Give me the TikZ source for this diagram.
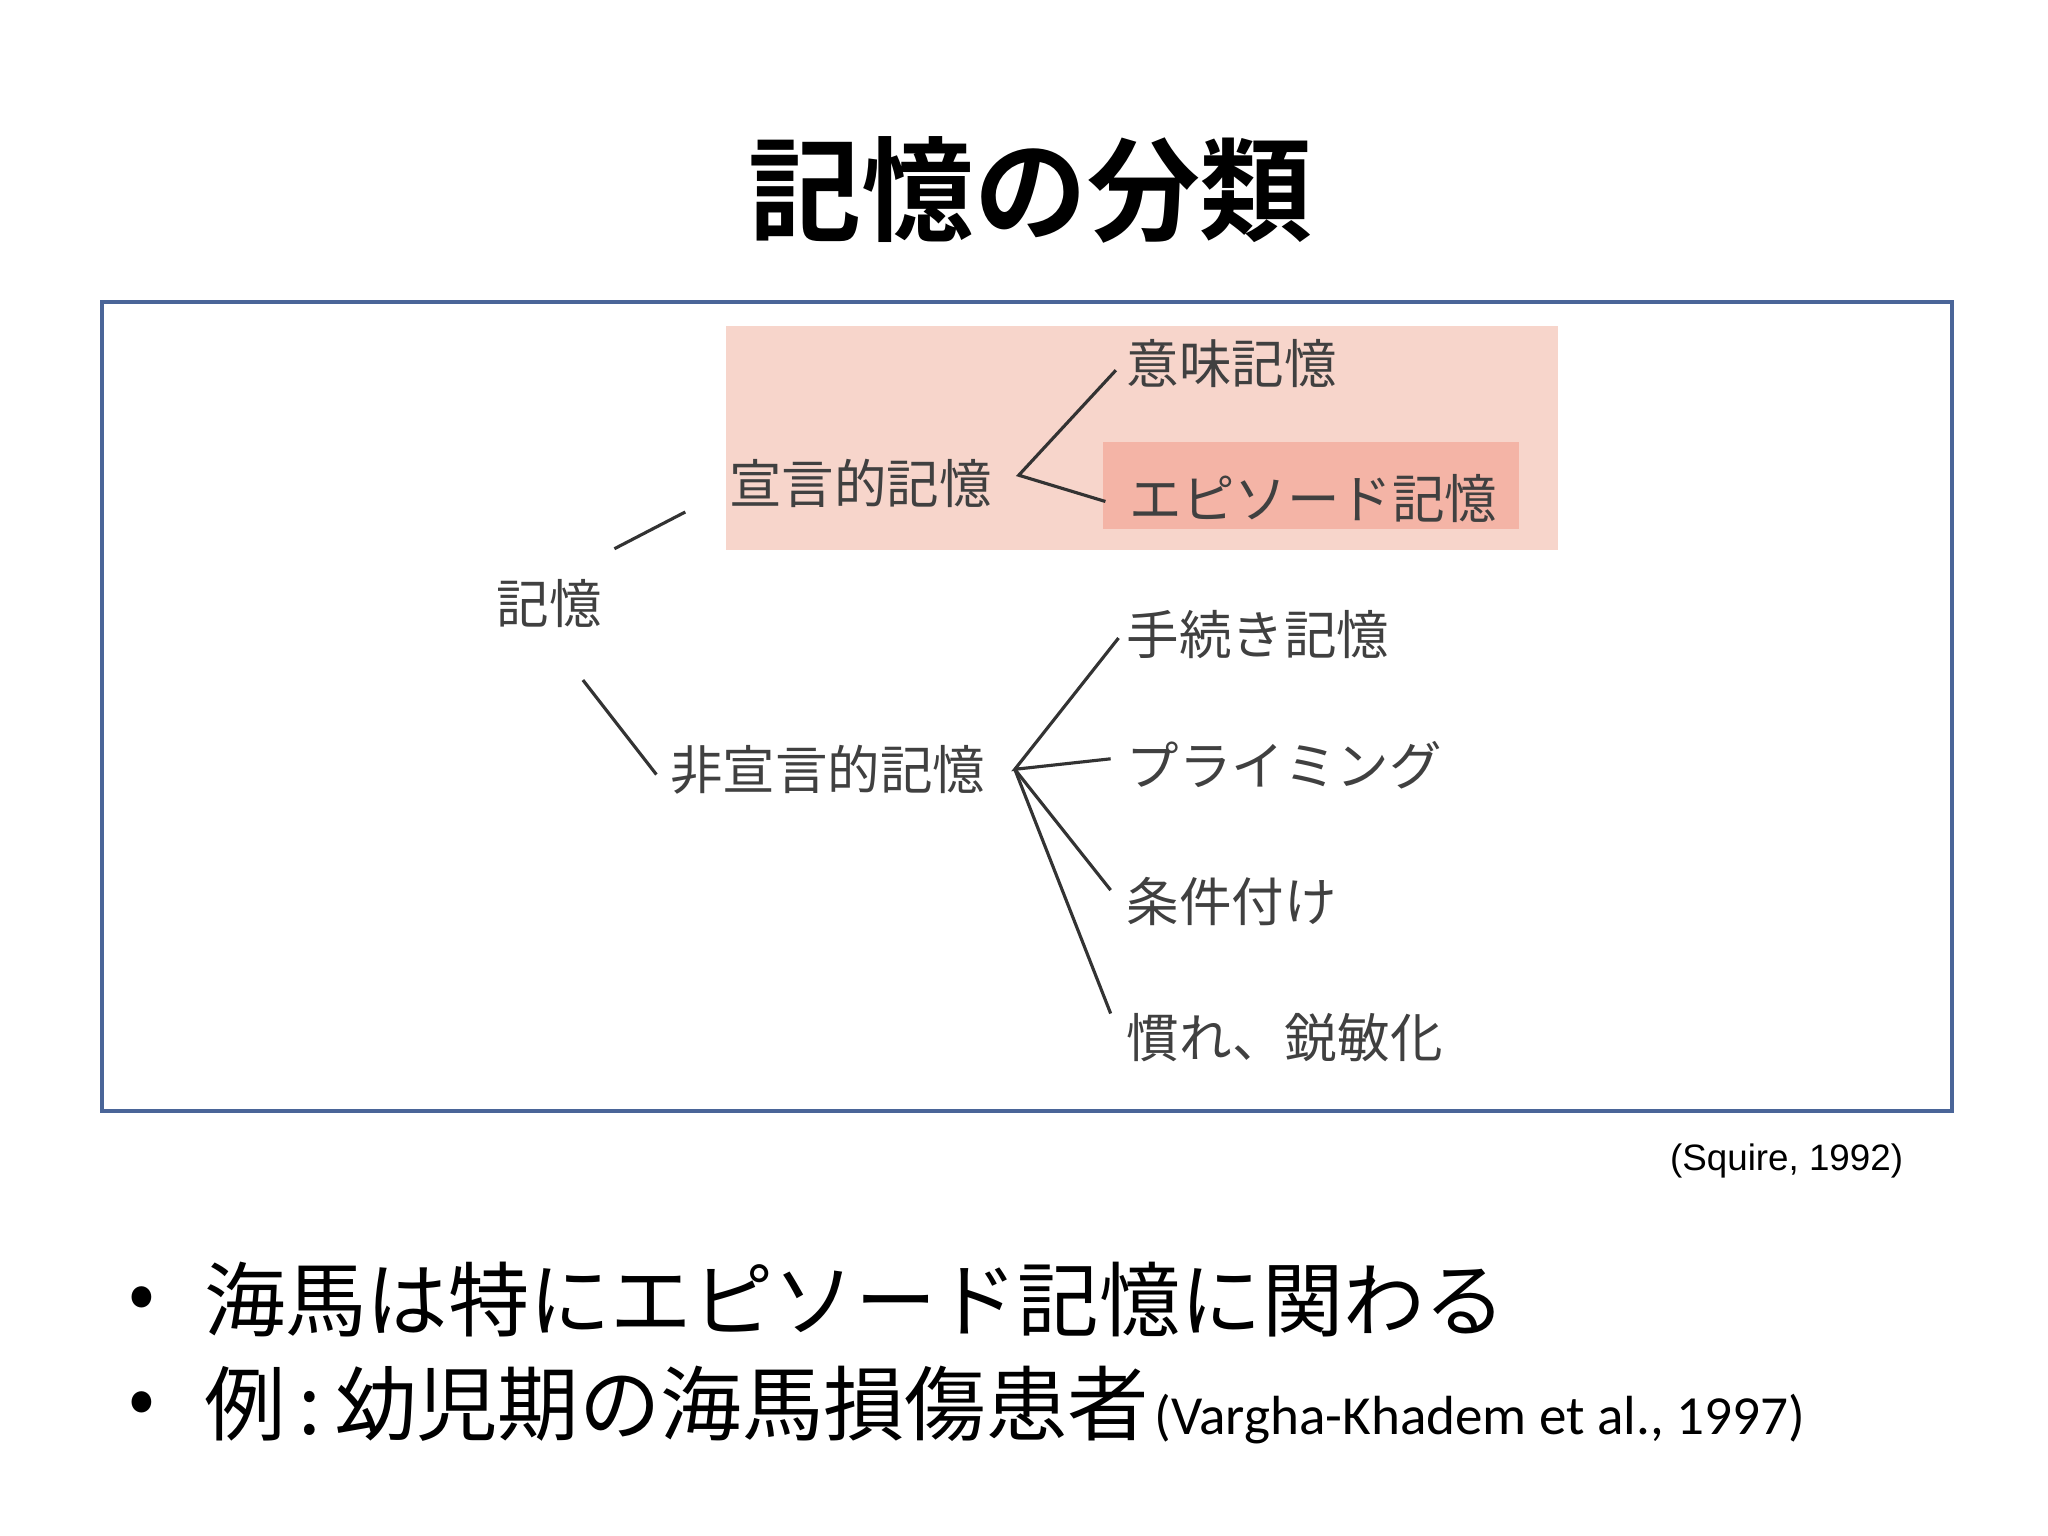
\documentclass[tikz,border=0pt]{standalone}
\usepackage{fontspec}
\setmainfont{Noto Sans CJK JP}
\newfontfamily\boldcjk{Noto Sans CJK JP Bold}
\newfontfamily\latfont{Liberation Sans}
\newfontfamily\carfont{Carlito}
\begin{document}
\begin{tikzpicture}[x=0.5pt,y=-0.5pt,
  lab/.style={anchor=west,inner sep=0pt,text=black!75,font=\fontsize{20}{24}\selectfont},
  br/.style={line width=1.2pt,black!80}]
\useasboundingbox (0,0) rectangle (1560,1170);
\node[font=\boldcjk\fontsize{43}{50}\selectfont] (title) at (785,145) {記憶の分類};
\draw[line width=1.5pt,draw={rgb,255:red,74;green,101;blue,152}] (78,230) rectangle (1487,846);
\fill[fill={rgb,255:red,247;green,213;blue,203}] (553,248) rectangle (1187,419);
\fill[fill={rgb,255:red,244;green,180;blue,166}] (840,337) rectangle (1157,403);
\node[lab] (imi) at (858,277) {意味記憶};
\node[lab] (sen) at (555,368) {宣言的記憶};
\node[lab] (epi) at (860,380) {エピソード記憶};
\node[lab] (kio) at (378,460) {記憶};
\node[lab] (tet) at (858,483) {手続き記憶};
\node[lab] (hisen) at (510,586) {非宣言的記憶};
\node[lab] (pri) at (858,583) {プライミング};
\node[lab] (jok) at (858,687) {条件付け};
\node[lab] (nar) at (858,790) {慣れ、鋭敏化};
\coordinate (a1) at (468,418); \coordinate (a2) at (522,390);
\coordinate (b1) at (444,518); \coordinate (b2) at (500,590);
\coordinate (c0) at (776,362); \coordinate (c1) at (850,282); \coordinate (c2) at (842,382);
\coordinate (d0) at (773,586); \coordinate (d1) at (852,486); \coordinate (d2) at (846,578);
\coordinate (d3) at (846,678); \coordinate (d4) at (846,772);
\draw[br] (a1)--(a2); \draw[br] (b1)--(b2);
\draw[br] (c1)--(c0)--(c2);
\draw[br] (d1)--(d0)--(d2); \draw[br] (d0)--(d3); \draw[br] (d0)--(d4);
\node[anchor=east,inner sep=0pt,font=\latfont\fontsize{14}{16}\selectfont] (sq) at (1450,884) {(Squire, 1992)};
\node[inner sep=0pt,font=\fontsize{30}{34}\selectfont] (bu1) at (108,993) {•};
\node[lab,text=black,font=\fontsize{31}{34}\selectfont] (t1) at (155,990) {海馬は特にエピソード記憶に関わる};
\node[inner sep=0pt,font=\fontsize{30}{34}\selectfont] (bu2) at (108,1073) {•};
\node[lab,text=black,font=\fontsize{31}{34}\selectfont] (t2) at (155,1070) {例\,:\,幼児期の海馬損傷患者\kern2pt{\carfont\fontsize{21}{24}\selectfont(Vargha-Khadem et al., 1997)}};
\end{tikzpicture}
\end{document}
